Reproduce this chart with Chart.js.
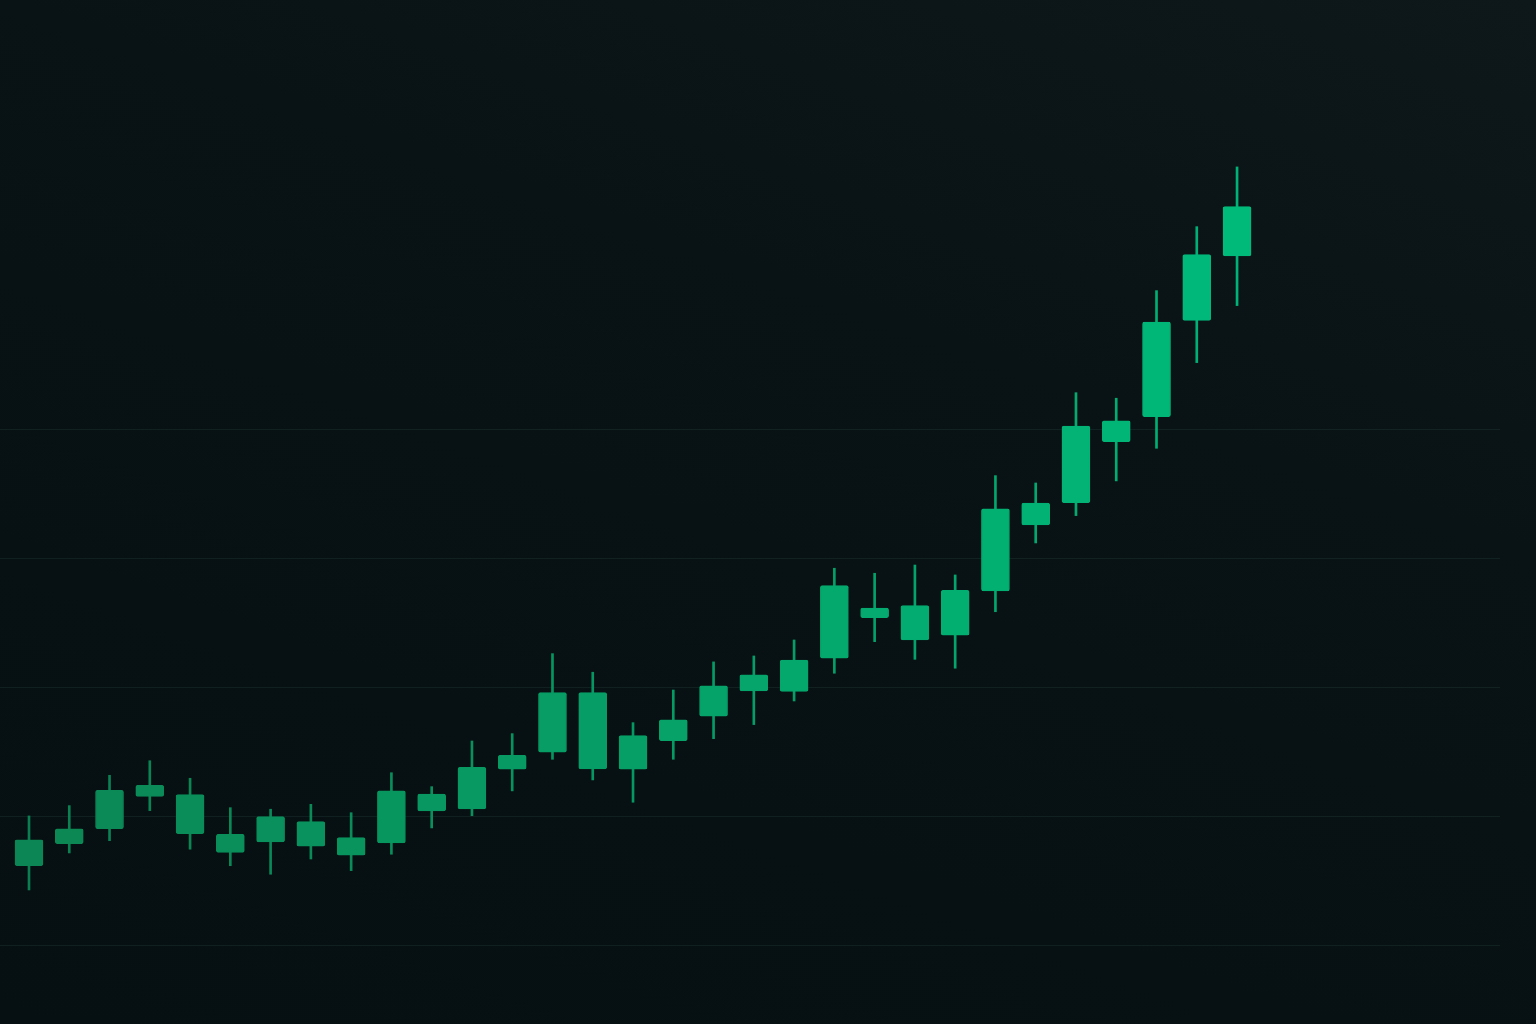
<!DOCTYPE html>
<html lang="en">
<head>
    <meta charset="UTF-8">
    <title>Candles</title>
    <script src="https://cdn.jsdelivr.net/npm/chart.js"></script>
    <style>
        html, body { margin: 0; padding: 0; }
        body {
            width: 1536px;
            height: 1024px;
            overflow: hidden;
            background: linear-gradient(200deg, #0e181a 0%, #091315 35%, #071012 70%, #060f11 100%);
        }
        .area-grafico { position: relative; width: 1536px; height: 1024px; }
    </style>
</head>
<body>
    <div class="area-grafico">
        <canvas id="myChart"></canvas>
    </div>

<script>
    // dias (eixo x)
    const dias = [1, 2, 3, 4, 5, 6, 7, 8, 9, 10, 11, 12, 13, 14, 15, 16,
                  17, 18, 19, 20, 21, 22, 23, 24, 25, 26, 27, 28, 29, 30, 31]

    const abertura = [106.22, 107.93, 109.09, 111.60, 108.71, 107.26, 108.06, 107.73, 107.03, 107.98,
                      110.47, 110.62, 113.70, 115.02, 113.72, 113.70, 115.91, 117.81, 119.77, 119.74,
                      122.30, 125.45, 123.72, 124.09, 127.52, 132.64, 134.36, 139.09, 141.03, 148.50, 153.49]

    const fechamento = [108.22, 109.07, 112.07, 112.46, 111.73, 108.66, 110.02, 109.64, 108.40, 112.02,
                        111.78, 113.85, 114.78, 119.64, 119.64, 116.30, 117.52, 120.16, 121.01, 122.17,
                        127.93, 126.20, 126.38, 127.57, 133.88, 134.34, 140.31, 140.70, 148.37, 153.59, 157.31]

    const maxima = [110.08, 110.88, 113.23, 114.36, 113.00, 110.72, 110.60, 110.98, 110.33, 113.43,
                    112.35, 115.89, 116.46, 122.66, 121.22, 117.31, 119.84, 122.02, 122.48, 123.72,
                    129.28, 128.89, 129.53, 128.76, 136.46, 135.89, 142.89, 142.46, 150.80, 155.76, 160.39]

    const minima = [104.34, 107.21, 108.16, 110.49, 107.50, 106.22, 105.56, 106.74, 105.84, 107.11,
                    109.15, 110.10, 112.02, 114.47, 112.87, 111.14, 114.47, 116.07, 117.16, 118.99,
                    121.14, 123.59, 122.22, 121.53, 125.91, 131.24, 133.36, 136.05, 138.58, 145.22, 149.64]

    // linhas de grade visiveis
    const linhasGrade = [100, 110, 120, 130, 140]

    function corVela(i, alpha) {
        // verde fica mais claro da esquerda para a direita
        var t = i / (dias.length - 1)
        var r = Math.round(12 + (0 - 12) * t)
        var g = Math.round(134 + (186 - 134) * t)
        var b = Math.round(84 + (122 - 84) * t)
        return 'rgba(' + r + ',' + g + ',' + b + ',' + alpha + ')'
    }

    const corpos = dias.map((d, i) => ({ x: d, y: [abertura[i], fechamento[i]] }))
    const pavios = dias.map((d, i) => ({ x: d, y: [minima[i], maxima[i]] }))

    const data = {
        datasets: [
            {
                label: 'Corpo',
                data: corpos,
                backgroundColor: (ctx) => corVela(ctx.dataIndex, 1),
                borderColor: (ctx) => corVela(ctx.dataIndex, 1),
                borderWidth: 1,
                borderRadius: 2,
                borderSkipped: false,
                barThickness: 28,
                grouped: false,
                order: 0
            },
            {
                label: 'Pavio',
                data: pavios,
                backgroundColor: (ctx) => corVela(ctx.dataIndex, 0.95),
                borderWidth: 0,
                borderSkipped: false,
                barThickness: 2,
                grouped: false,
                order: 1
            }
        ]
    }

    const config = {
        type: 'bar',
        data: data,
        options: {
            responsive: true,
            maintainAspectRatio: false,
            animation: false,
            layout: { padding: { left: 0, right: 36, top: 0, bottom: 0 } },
            plugins: {
                legend: { display: false },
                tooltip: { enabled: false }
            },
            scales: {
                x: {
                    type: 'linear',
                    display: false,
                    offset: false,
                    min: 0.28,
                    max: 37.53
                },
                y: {
                    min: 93.95,
                    max: 173.33,
                    afterFit: (s) => { s.width = 0 },
                    ticks: { display: false, stepSize: 10 },
                    border: { display: false },
                    grid: {
                        drawTicks: false,
                        lineWidth: 1,
                        color: (ctx) => linhasGrade.includes(ctx.tick && ctx.tick.value)
                            ? 'rgba(70, 120, 105, 0.16)' : 'rgba(0,0,0,0)'
                    }
                }
            }
        }
    }

    const myChart = new Chart(document.getElementById('myChart'), config)
</script>
</body>
</html>
